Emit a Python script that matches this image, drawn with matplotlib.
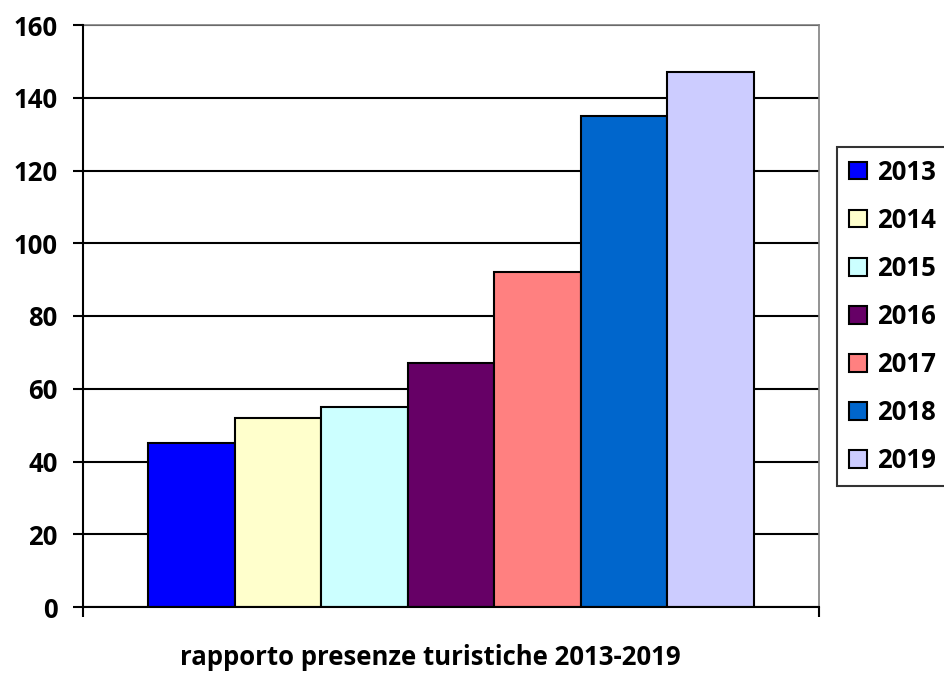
import matplotlib
matplotlib.use("Agg")
import matplotlib.pyplot as plt
from matplotlib.patches import Patch

years = ["2013", "2014", "2015", "2016", "2017", "2018", "2019"]
values = [45, 52, 55, 67, 92, 135, 147]
colors = ["#0000FF", "#FFFFCC", "#CCFFFF", "#660066", "#FF8080", "#0066CC", "#CCCCFF"]
yticks = [0, 20, 40, 60, 80, 100, 120, 140, 160]
xlabel = "rapporto presenze turistiche 2013-2019"

plt.rcParams['font.family'] = ['Open Sans', 'DejaVu Sans']
plt.rcParams['font.weight'] = 'bold'
FS = 18.5

fig = plt.figure(figsize=(9.44, 6.73), dpi=100)
ax = fig.add_axes([83/944, 1-607/673, 736/944, 582/673])

bw = 0.1175
n = len(values)
for i, (y, v, c) in enumerate(zip(years, values, colors)):
    ax.bar(0.5 + (i - (n-1)/2) * bw, v, width=bw, color=c, edgecolor='black',
           linewidth=1.5, zorder=3, label=y)

ax.set_xlim(0, 1)
ax.set_ylim(0, 160)
ax.set_yticks(yticks)
ax.set_yticklabels([str(t) for t in yticks], fontsize=FS, fontweight='bold')
ax.set_xticks([0, 1])
ax.set_xticklabels([])
ax.tick_params(axis='y', direction='out', length=7.2, width=1.5, pad=11)
ax.tick_params(axis='x', direction='out', length=7.2, width=1.5)
ax.yaxis.grid(True, color='black', linewidth=1.5, zorder=0)
ax.set_axisbelow(True)
for s in ['left', 'bottom']:
    ax.spines[s].set_color('black')
    ax.spines[s].set_linewidth(1.5)
    ax.spines[s].set_zorder(5)
for s in ['top', 'right']:
    ax.spines[s].set_color('#808080')
    ax.spines[s].set_linewidth(1.2)

fig.text(430/944, 1-665/673, xlabel, ha='center', va='baseline', fontsize=FS, fontweight='bold')

handles = [Patch(facecolor=c, edgecolor='black', linewidth=1.5) for c in colors]
leg = fig.legend(handles, years, loc='upper left', bbox_to_anchor=(837/944, 1-147/673),
                 frameon=True, fancybox=False, edgecolor='black',
                 prop={'weight': 'bold', 'size': FS},
                 handlelength=0.72, handleheight=0.68, labelspacing=0.82,
                 handletextpad=0.38, borderpad=0.45, borderaxespad=0)
leg.get_frame().set_linewidth(1.5)

fig.savefig("out.png", dpi=100)
